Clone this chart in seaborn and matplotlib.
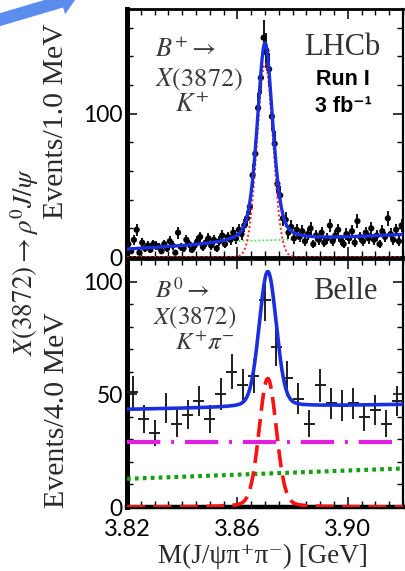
import numpy as np
import pandas as pd
import matplotlib
matplotlib.use("Agg")
import matplotlib.pyplot as plt
from matplotlib.patches import FancyArrowPatch
from matplotlib.ticker import MultipleLocator
import seaborn as sns

# ---------------- data ----------------
# LHCb, B+ -> X(3872) K+, 1 MeV bins from 3.820 to 3.920 GeV
lhcb_counts = [9, 4, 12, 19, 3, 10, 6, 8, 5, 9,
               8, 7, 4, 9, 6, 11, 8, 3, 17, 7,
               6, 12, 9, 5, 8, 11, 14, 7, 10, 13,
               8, 12, 6, 11, 15, 9, 14, 12, 17, 13,
               19, 16, 22, 27, 35, 57, 72, 104, 125, 153,
               144, 131, 98, 79, 51, 43, 27, 26, 17, 21,
               13, 19, 14, 18, 11, 16, 20, 9, 15, 12,
               17, 10, 13, 22, 11, 15, 19, 12, 9, 16,
               13, 18, 10, 25, 14, 11, 17, 13, 20, 12,
               15, 9, 18, 14, 27, 16, 12, 19, 11, 22]
lhcb_mass = np.arange(100) * 0.001 + 3.8205

# Belle, B0 -> X(3872) K+ pi-, 4 MeV bins
belle_counts = [51, 39, 33, 44, 37, 41, 47, 39, 50, 60, 54, 58, 92,
                71, 57, 48, 37, 54, 46, 45, 46, 40, 43, 37, 47]
belle_mass = np.arange(25) * 0.004 + 3.822

# fit parameters (masses in GeV, widths in MeV)
lhcb_peak, lhcb_amp = 3.8700, 139.0
lhcb_bw_frac, lhcb_gamma, lhcb_sigma = 0.45, 3.2, 2.9
lhcb_bkg_lo, lhcb_bkg_hi = 5.3, 15.5
lhcb_core_amp, lhcb_core_sigma = 135.0, 2.9
lhcb_comb_lo, lhcb_comb_hi, lhcb_comb_range = 11.0, 12.3, (3.856, 3.884)

belle_peak, belle_amp, belle_sig_amp = 3.8710, 60.0, 57.0
belle_sigma, belle_tail_gamma, belle_tail_frac = 3.1, 4.0, 0.15
belle_bkg_lo, belle_bkg_hi = 43.3, 45.5
belle_flat = 28.7
belle_lin_lo, belle_lin_hi = 12.5, 17.1

x_ticks = [3.82, 3.86, 3.90]
x_tick_labels = ["3.82", "3.86", "3.90"]
lhcb_yticks = [0, 100]
belle_yticks = [0, 50, 100]

# ---------------- style ----------------
sns.set_theme(style="ticks")
plt.rcParams["font.family"] = ["Lato", "DejaVu Sans"]
plt.rcParams["mathtext.fontset"] = "stix"

W, H = 406, 571
fig = plt.figure(figsize=(W / 100, H / 100), dpi=100)
fig.patch.set_facecolor("white")

def frame(l, t, r, b):
    return [l / W, 1 - b / H, (r - l) / W, (b - t) / H]

ax1 = fig.add_axes(frame(127, 9, 403, 257))
ax2 = fig.add_axes(frame(127, 259, 403, 507))

m = np.linspace(3.82, 3.92, 1001)
d1 = (m - lhcb_peak) * 1000
d2 = (m - belle_peak) * 1000

def lin(lo, hi, x, a=3.82, b=3.92):
    return lo + (hi - lo) * (x - a) / (b - a)

# ---- LHCb panel ----
lhcb_sig = lhcb_amp * (lhcb_bw_frac / (1 + (d1 / lhcb_gamma) ** 2)
                       + (1 - lhcb_bw_frac) * np.exp(-0.5 * (d1 / lhcb_sigma) ** 2))
lhcb_total = lin(lhcb_bkg_lo, lhcb_bkg_hi, m) + lhcb_sig
lhcb_core = lhcb_core_amp * np.exp(-0.5 * (d1 / lhcb_core_sigma) ** 2)
cm = m[(m >= lhcb_comb_range[0]) & (m <= lhcb_comb_range[1])]
comb = lin(lhcb_comb_lo, lhcb_comb_hi, cm, *lhcb_comb_range)

yc = np.array(lhcb_counts, dtype=float)
ax1.errorbar(lhcb_mass, yc, yerr=np.sqrt(yc), xerr=0.0005, fmt="none",
             ecolor="black", elinewidth=1.3, zorder=3)
sns.scatterplot(x=lhcb_mass, y=yc, ax=ax1, color="black", s=20,
                edgecolor="none", zorder=4)
sns.lineplot(x=cm, y=comb, ax=ax1, color="#5de05d", lw=1.2,
             linestyle=(0, (1.2, 1.2)), zorder=3)
sns.lineplot(x=m, y=lhcb_core, ax=ax1, color="#ee2222", lw=1.4,
             linestyle=(0, (1, 1.3)), zorder=5)
sns.lineplot(x=m, y=lhcb_total, ax=ax1, color="#1a2fe0", lw=2.4, zorder=5)

ax1.set_xlim(3.82, 3.92)
ax1.set_ylim(0, 173)
ax1.set_yticks(lhcb_yticks)
ax1.yaxis.set_minor_locator(MultipleLocator(20))
ax1.set_xticks(x_ticks)
ax1.set_xticklabels([])
ax1.xaxis.set_minor_locator(MultipleLocator(0.005))

ax1.text(0.10, 0.835, r"$B^{+}\rightarrow$", transform=ax1.transAxes,
         fontsize=19, color="#3a3a3a", ha="left", va="center")
ax1.text(0.10, 0.714, r"$X(3872)$", transform=ax1.transAxes,
         fontsize=19, color="#3a3a3a", ha="left", va="center")
ax1.text(0.175, 0.615, r"$K^{+}$", transform=ax1.transAxes,
         fontsize=19, color="#3a3a3a", ha="left", va="center")
ax1.text(0.78, 0.843, "LHCb", transform=ax1.transAxes, fontsize=22,
         family=["Liberation Serif", "DejaVu Serif"], color="#333333",
         ha="center", va="center")
ax1.text(0.783, 0.714, "Run I", transform=ax1.transAxes, fontsize=15.5,
         family=["Liberation Sans", "DejaVu Sans"], weight="bold",
         color="black", ha="center", va="center")
ax1.text(0.783, 0.605, "3 fb\u207b\u00b9", transform=ax1.transAxes, fontsize=15.5,
         family=["Liberation Sans", "DejaVu Sans"], weight="bold",
         color="black", ha="center", va="center")

# ---- Belle panel ----
shape = ((1 - belle_tail_frac) * np.exp(-0.5 * (d2 / belle_sigma) ** 2)
         + belle_tail_frac / (1 + (d2 / belle_tail_gamma) ** 2))
belle_total = lin(belle_bkg_lo, belle_bkg_hi, m) + belle_amp * shape
belle_sig = belle_sig_amp * shape
flat = np.full_like(m, belle_flat)
linear = lin(belle_lin_lo, belle_lin_hi, m)

yb = np.array(belle_counts, dtype=float)
ax2.errorbar(belle_mass, yb, yerr=np.sqrt(yb), xerr=0.002, fmt="none",
             ecolor="#1e1e1e", elinewidth=1.4, zorder=3)
sns.lineplot(x=m, y=flat, ax=ax2, color="#e020e0", lw=3.0,
             linestyle=(0, (8, 2.6, 0.7, 2.6)), zorder=4)
sns.lineplot(x=m, y=linear, ax=ax2, color="#10a010", lw=3.0,
             linestyle=(0, (0.9, 1.0)), zorder=4)
sns.lineplot(x=m, y=belle_sig, ax=ax2, color="#ff1010", lw=2.6,
             linestyle=(0, (5, 2.3)), zorder=4)
sns.lineplot(x=m, y=belle_total, ax=ax2, color="#1a2fe0", lw=2.6, zorder=5)

ax2.set_xlim(3.82, 3.92)
ax2.set_ylim(0, 110)
ax2.set_yticks(belle_yticks)
ax2.yaxis.set_minor_locator(MultipleLocator(10))
ax2.set_xticks(x_ticks)
ax2.set_xticklabels(x_tick_labels)
ax2.xaxis.set_minor_locator(MultipleLocator(0.005))

ax2.text(0.10, 0.878, r"$B^{0}\rightarrow$", transform=ax2.transAxes,
         fontsize=18, color="#3a3a3a", ha="left", va="center")
ax2.text(0.095, 0.762, r"$X(3872)$", transform=ax2.transAxes,
         fontsize=18, color="#3a3a3a", ha="left", va="center")
ax2.text(0.175, 0.662, r"$K^{+}\pi^{-}$", transform=ax2.transAxes,
         fontsize=18, color="#3a3a3a", ha="left", va="center")
ax2.text(0.79, 0.867, "Belle", transform=ax2.transAxes, fontsize=22,
         family=["Liberation Serif", "DejaVu Serif"], color="#333333",
         ha="center", va="center")

# ---- frames and ticks ----
for ax in (ax1, ax2):
    ax.set_xlabel("")
    ax.set_ylabel("")
    ax.set_facecolor("white")
    ax.tick_params(which="both", direction="in", top=True, right=True,
                   colors="black", labelsize=16.5, pad=3)
    ax.tick_params(which="major", length=7, width=1.1)
    ax.tick_params(which="minor", length=4, width=1.0)
    for s in ax.spines.values():
        s.set_color("black")
    ax.spines["left"].set_linewidth(3.6)
    ax.spines["right"].set_linewidth(1.6)
    ax.spines["top"].set_linewidth(2.0)
ax1.spines["bottom"].set_linewidth(2.0)
ax2.spines["bottom"].set_linewidth(3.2)
ax2.tick_params(axis="x", which="major", pad=9)
for lab in ax2.get_xticklabels():
    lab.set_fontsize(17)
for lab in ax1.get_yticklabels() + ax2.get_yticklabels():
    lab.set_fontsize(16.5)

# ---- axis titles ----
serif = ["Liberation Serif", "DejaVu Serif"]
fig.text(56 / W, 1 - 121 / H, "Events/1.0 MeV", rotation=90, fontsize=21.5,
         family=serif, color="#2a2a2a", ha="center", va="center")
fig.text(57 / W, 1 - 410 / H, "Events/4.0 MeV", rotation=90, fontsize=21.5,
         family=serif, color="#2a2a2a", ha="center", va="center")
fig.text(25 / W, 1 - 262 / H, r"$X(3872)\rightarrow\rho^{0}J/\psi$", rotation=90,
         fontsize=19.5, color="#2a2a2a", ha="center", va="center")
fig.text(263 / W, 1 - 556 / H, "M(J/\u03c8\u03c0\u207a\u03c0\u207b) [GeV]",
         fontsize=19.5, family=serif, color="#2a2a2a", ha="center", va="center")

# ---- pointer arrow in the corner ----
arrow = FancyArrowPatch((-0.08, 5.49), (0.80, 5.75),
                        arrowstyle="simple,head_width=1.6,head_length=1.0,tail_width=0.75",
                        mutation_scale=12, color="#5b8def", lw=0,
                        transform=fig.dpi_scale_trans, clip_on=False)
fig.add_artist(arrow)

fig.savefig("out.png", dpi=100, facecolor="white")
